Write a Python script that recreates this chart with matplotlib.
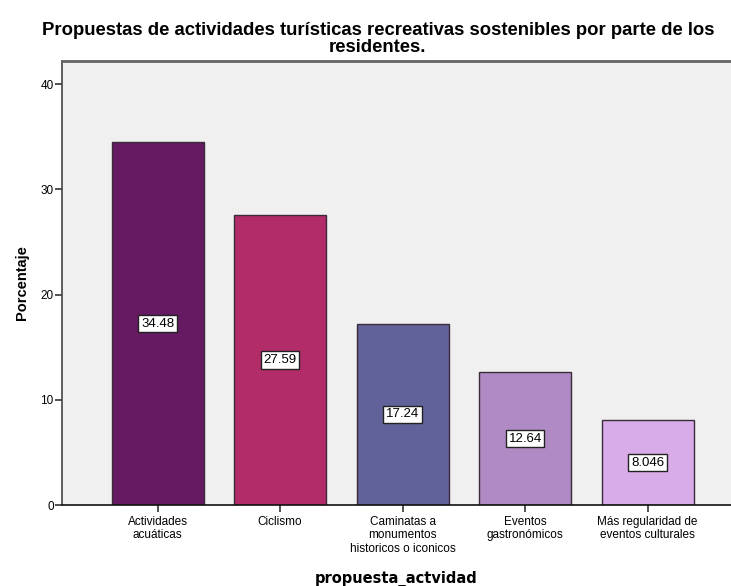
import matplotlib.pyplot as plt

# datos del gráfico
categorias = ['Actividades\nacuáticas', 'Ciclismo', 'Caminatas a\nmonumentos\nhistoricos o iconicos',
              'Eventos\ngastronómicos', 'Más regularidad de\neventos culturales']
porcentajes = [34.48, 27.59, 17.24, 12.64, 8.046]
etiquetas = ['34.48', '27.59', '17.24', '12.64', '8.046']
colores = ['#661a62', '#b22c6a', '#62629a', '#b08ac4', '#d8ace8']

plt.rcParams['font.family'] = ['Liberation Sans', 'DejaVu Sans']

fig = plt.figure(figsize=(7.31, 5.86), dpi=100)
ax = fig.add_axes([0.0848, 0.1382, 0.9152, 0.7577])
ax.set_facecolor('#f0f0f0')

x = list(range(len(categorias)))
ax.bar(x, porcentajes, width=0.75, color=colores, edgecolor='#3a2a3a', linewidth=1)

# etiquetas en la mitad de cada barra
for xi, v, t in zip(x, porcentajes, etiquetas):
    ax.text(xi, v / 2, t, ha='center', va='center', fontsize=9.5,
            bbox=dict(boxstyle='square,pad=0.2', facecolor='white', edgecolor='#222222', linewidth=1))

ax.set_xlim(-0.78, 4.68)
ax.set_ylim(0, 42.2)
ax.set_yticks([0, 10, 20, 30, 40])
ax.set_xticks(x)
ax.set_xticklabels(categorias, fontsize=8.5, linespacing=1.15)
ax.tick_params(axis='y', labelsize=8.5, length=5, width=1.2, pad=1, color='#333333')
ax.tick_params(axis='x', length=5, width=1.2, pad=3, color='#333333')

ax.spines['left'].set_color('#444444')
ax.spines['left'].set_linewidth(1.2)
ax.spines['bottom'].set_color('#111111')
ax.spines['bottom'].set_linewidth(1.2)
ax.spines['top'].set_color('#666666')
ax.spines['top'].set_linewidth(2)
ax.spines['right'].set_visible(False)

ax.set_ylabel('Porcentaje', fontsize=10.5, fontweight='bold', labelpad=8)
ax.set_xlabel('propuesta_actvidad', fontsize=10.5, fontweight='bold',
              family='DejaVu Sans', labelpad=12)
fig.text(0.517, 0.962,
         'Propuestas de actividades turísticas recreativas sostenibles por parte de los\nresidentes.',
         ha='center', va='top', fontsize=13.3, fontweight='bold', linespacing=1.0)

fig.savefig('out.png', dpi=100)
